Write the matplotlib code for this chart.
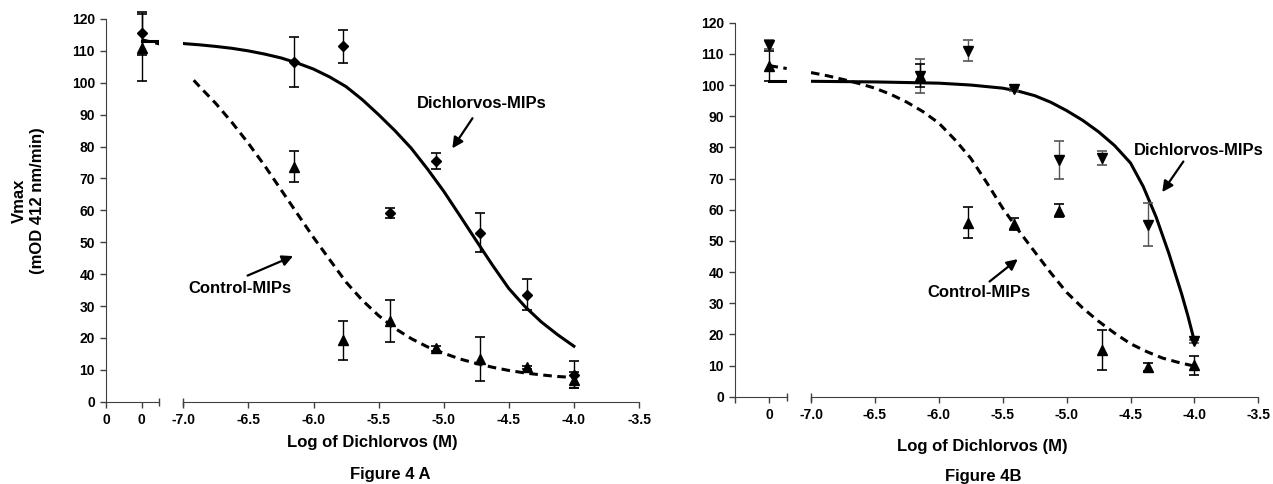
import numpy as np
import matplotlib.pyplot as plt

plt.rcParams['font.family'] = ['Liberation Sans', 'DejaVu Sans']
plt.rcParams['font.weight'] = 'bold'

W, H = 1273, 484

# log10 of dichlorvos concentration (M) for the dose points
log_conc = [-6.15, -5.77, -5.41, -5.06, -4.72, -4.36, -4.0]

# Figure 4A - Vmax (mOD 412 nm/min)
a_dich = [106.6, 111.5, 59.2, 75.5, 53.0, 33.6, 8.5]
a_dich_err = [7.9, 5.2, 1.6, 2.6, 6.2, 4.9, 4.3]
a_ctrl = [73.7, 19.3, 25.3, 16.7, 13.5, 10.8, 6.8]
a_ctrl_err = [4.8, 6.1, 6.7, 0.8, 6.9, 0.5, 2.4]
a_dich_zero, a_dich_zero_err = 115.5, 6.7
a_ctrl_zero, a_ctrl_zero_err = 111.0, 10.5

# Figure 4B
b_dich = [103.0, 111.0, 98.6, 75.9, 76.5, 55.1, 17.8]
b_dich_err = [5.5, 3.3, 0.5, 6.0, 2.2, 6.9, 0.5]
b_ctrl = [103.0, 55.8, 55.4, 59.7, 15.0, 9.6, 10.1]
b_ctrl_err = [3.7, 5.0, 1.9, 2.2, 6.3, 1.2, 3.1]
b_dich_zero, b_dich_zero_err = 113.0, 1.3
b_ctrl_zero, b_ctrl_zero_err = 106.0, 4.8

# fitted dose-response curves
fit_x = [-7.0, -6.875, -6.75, -6.625, -6.5, -6.375, -6.25, -6.125, -6.0, -5.875,
         -5.75, -5.625, -5.5, -5.375, -5.25, -5.125, -5.0, -4.875, -4.75, -4.625,
         -4.5, -4.375, -4.25, -4.125, -4.0]
a_dich_fit = [112.3, 111.9, 111.4, 110.8, 110.0, 109.0, 107.8, 106.2, 104.3, 101.8,
              98.8, 94.7, 90.0, 85.0, 79.5, 73.0, 66.0, 58.3, 50.5, 42.8,
              35.5, 29.8, 25.0, 21.0, 17.4]
a_ctrl_fit_x = [-6.92, -6.875, -6.75, -6.625, -6.5, -6.375, -6.25, -6.125, -6.0, -5.875,
                -5.75, -5.625, -5.5, -5.375, -5.25, -5.125, -5.0, -4.875, -4.75, -4.625,
                -4.5, -4.375, -4.25, -4.125, -4.0]
a_ctrl_fit = [100.8, 98.8, 93.5, 87.5, 81.0, 74.0, 66.5, 59.0, 51.5, 44.5,
              37.5, 31.8, 27.0, 23.0, 19.8, 17.2, 15.2, 13.4, 12.0, 10.8,
              9.8, 9.0, 8.4, 7.9, 7.6]
b_dich_fit_x = [-7.0, -6.75, -6.5, -6.25, -6.0, -5.75, -5.5, -5.375, -5.25, -5.125,
                -5.0, -4.875, -4.75, -4.625, -4.5, -4.4, -4.3, -4.2, -4.1, -4.05, -4.0]
b_dich_fit = [101.2, 101.1, 101.0, 100.8, 100.6, 100.0, 99.0, 98.0, 96.6, 94.5,
              91.8, 88.7, 85.0, 80.6, 75.0, 67.4, 57.7, 46.0, 33.0, 25.8, 17.8]
b_ctrl_fit = [104.0, 103.0, 101.8, 100.5, 99.0, 97.0, 94.5, 91.5, 87.8, 82.5,
              76.5, 68.7, 60.5, 53.3, 46.5, 39.8, 33.5, 28.5, 24.2, 20.4,
              17.0, 14.5, 12.4, 11.0, 9.8]

# short curve pieces on the zero-dose segment
zero_x = [0, 0.5]
a_dich_zero_fit = [113.2, 113.2]
a_ctrl_zero_fit = [113.5, 112.2]
b_dich_zero_fit = [101.2, 101.2]
b_ctrl_zero_fit = [106.2, 105.3]

AXIS_COL = '#404040'
DASH = (0, (2.8, 1.8))


def px_box(x0, x1, y_top, y_bot):
    return [x0 / W, 1 - y_bot / H, (x1 - x0) / W, (y_bot - y_top) / H]


def style_axes(ax0, ax1, zero_labels):
    for ax in (ax0, ax1):
        ax.set_ylim(0, 120)
        for s in ('top', 'right'):
            ax.spines[s].set_visible(False)
        ax.spines['bottom'].set_color(AXIS_COL)
        ax.spines['left'].set_color(AXIS_COL)
        ax.tick_params(direction='out', length=4, width=1, color=AXIS_COL,
                       labelsize=10, pad=4)
        ax.patch.set_visible(False)
    ax0.set_xlim(-1, 0.5)
    ax0.set_xticks([-1, 0])
    ax0.set_xticklabels(zero_labels)
    ax0.set_yticks(np.arange(0, 121, 10))
    ax1.set_xlim(-7.0, -3.5)
    ax1.set_xticks(np.arange(-7.0, -3.4, 0.5))
    ax1.set_xticklabels(['%.1f' % v for v in np.arange(-7.0, -3.4, 0.5)])
    ax1.spines['left'].set_visible(False)
    ax1.tick_params(axis='y', left=False, labelleft=False)
    # caps marking the axis break
    ax0.plot([0.5], [0], marker='|', ms=6, mew=1, color=AXIS_COL, clip_on=False)
    ax1.plot([-7.0], [0], marker='|', ms=6, mew=1, color=AXIS_COL, clip_on=False)


def draw_points(ax, x, y, err, marker, ms, ecolor, capsize):
    ax.errorbar(x, y, yerr=err, fmt=marker, ms=ms, color='black', ecolor=ecolor,
                elinewidth=1, capsize=capsize, capthick=1.2, clip_on=False, zorder=3)


fig = plt.figure(figsize=(W / 100, H / 100), dpi=100)

# ---- Figure 4A ----
a0 = fig.add_axes(px_box(106, 159.3, 19, 401.7))
a1 = fig.add_axes(px_box(183.3, 639, 19, 401.7))
style_axes(a0, a1, ['0', '0'])

a0.plot(zero_x, a_dich_zero_fit, color='black', lw=2.2)
a0.plot(zero_x, a_ctrl_zero_fit, color='black', lw=2.2, ls=DASH)
draw_points(a0, [0], [a_dich_zero], [a_dich_zero_err], 'D', 5.5, 'black', 3.9)
draw_points(a0, [0], [a_ctrl_zero], [a_ctrl_zero_err], '^', 7.2, 'black', 3.9)

a1.plot(fit_x, a_dich_fit, color='black', lw=2.2, solid_joinstyle='round')
a1.plot(a_ctrl_fit_x, a_ctrl_fit, color='black', lw=2.2, ls=DASH)
draw_points(a1, log_conc, a_dich, a_dich_err, 'D', 5.5, 'black', 3.9)
draw_points(a1, log_conc, a_ctrl, a_ctrl_err, '^', 7.2, 'black', 3.9)

a1.text(-4.706, 93.5, 'Dichlorvos-MIPs', fontsize=12, ha='center', va='center')
a1.annotate('', xy=(-4.946, 78.7), xytext=(-4.767, 89.6),
            arrowprops=dict(arrowstyle='-|>', color='black', lw=1.6, mutation_scale=16))
a1.text(-6.565, 35.4, 'Control-MIPs', fontsize=12, ha='center', va='center')
a1.annotate('', xy=(-6.137, 46.0), xytext=(-6.526, 39.2),
            arrowprops=dict(arrowstyle='-|>', color='black', lw=1.6, mutation_scale=16))

fig.text(19 / W, 1 - 201 / H, 'Vmax', rotation=90, fontsize=12, ha='center', va='center')
fig.text(37.5 / W, 1 - 201 / H, '(mOD 412 nm/min)', rotation=90, fontsize=12,
         ha='center', va='center')
fig.text(372 / W, 1 - 443 / H, 'Log of Dichlorvos (M)', fontsize=12, ha='center', va='center')
fig.text(390.5 / W, 1 - 475 / H, 'Figure 4 A', fontsize=12, ha='center', va='center')

# ---- Figure 4B ----
b0 = fig.add_axes(px_box(735, 786.7, 22.7, 396.7))
b1 = fig.add_axes(px_box(811, 1258.3, 22.7, 396.7))
style_axes(b0, b1, ['', '0'])

b0.plot(zero_x, b_dich_zero_fit, color='black', lw=2.2)
b0.plot(zero_x, b_ctrl_zero_fit, color='black', lw=2.2, ls=DASH)
draw_points(b0, [0], [b_dich_zero], [b_dich_zero_err], 'v', 7.2, '#555555', 3.4)
draw_points(b0, [0], [b_ctrl_zero], [b_ctrl_zero_err], '^', 7.2, 'black', 3.4)

b1.plot(b_dich_fit_x, b_dich_fit, color='black', lw=2.2, solid_joinstyle='round')
b1.plot(fit_x, b_ctrl_fit, color='black', lw=2.2, ls=DASH)
draw_points(b1, log_conc, b_dich, b_dich_err, 'v', 7.2, '#555555', 3.4)
draw_points(b1, log_conc, b_ctrl, b_ctrl_err, '^', 7.2, 'black', 3.4)

b1.text(-3.966, 78.9, 'Dichlorvos-MIPs', fontsize=12, ha='center', va='center')
b1.annotate('', xy=(-4.264, 64.9), xytext=(-4.074, 76.2),
            arrowprops=dict(arrowstyle='-|>', color='black', lw=1.6, mutation_scale=16))
b1.text(-5.683, 33.5, 'Control-MIPs', fontsize=12, ha='center', va='center')
b1.annotate('', xy=(-5.365, 44.7), xytext=(-5.620, 36.4),
            arrowprops=dict(arrowstyle='-|>', color='black', lw=1.6, mutation_scale=16))

fig.text(982 / W, 1 - 446 / H, 'Log of Dichlorvos (M)', fontsize=12, ha='center', va='center')
fig.text(983 / W, 1 - 477 / H, 'Figure 4B', fontsize=12, ha='center', va='center')

fig.savefig('out.png', dpi=100)
